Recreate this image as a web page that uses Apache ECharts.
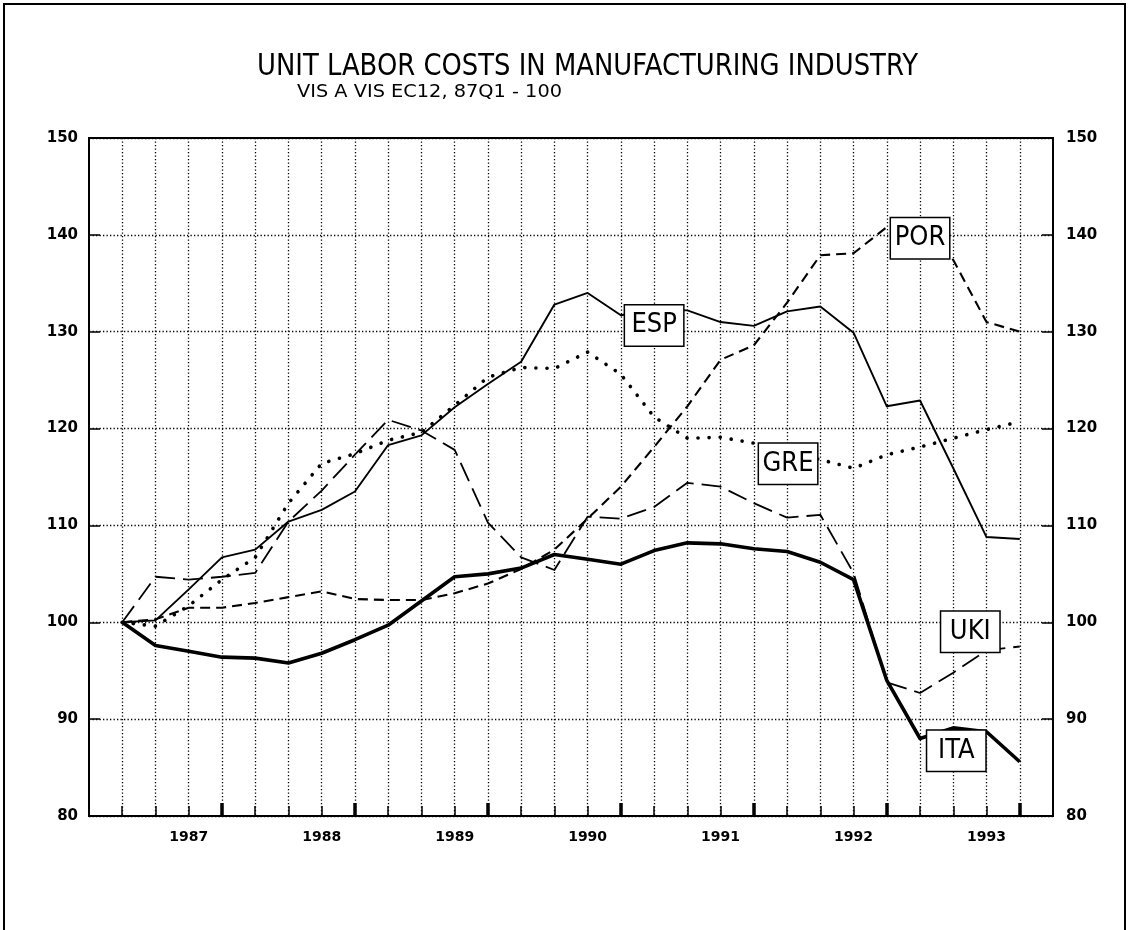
<!DOCTYPE html>
<html><head><meta charset="utf-8">
<script src="https://cdn.jsdelivr.net/npm/echarts@6/dist/echarts.min.js"></script>
<style>html,body{margin:0;padding:0;background:#fff}#c{width:1128px;height:930px}</style>
</head><body><div id="c"></div>
<script>
// ---- data ----
const quarters = ['87Q1','87Q2','87Q3','87Q4','88Q1','88Q2','88Q3','88Q4','89Q1','89Q2','89Q3','89Q4',
  '90Q1','90Q2','90Q3','90Q4','91Q1','91Q2','91Q3','91Q4','92Q1','92Q2','92Q3','92Q4','93Q1','93Q2','93Q3','93Q4'];
const yearLabels = ['1987','1988','1989','1990','1991','1992','1993'];
const yearLabelTicks = [2,6,10,14,18,22,26];
const yearBoundaryTicks = [3,7,11,15,19,23,27];
const titleText = 'UNIT LABOR COSTS IN MANUFACTURING INDUSTRY';
const subtitleText = 'VIS A VIS EC12, 87Q1 - 100';

const esp = [100,100.2,103.4,106.7,107.5,110.4,111.6,113.5,118.3,119.3,122.2,124.6,126.9,132.8,134.0,131.7,132.3,132.2,131.0,130.6,132.1,132.6,129.9,122.3,122.9,115.9,108.8,108.6];
const por = [100,100.3,101.5,101.5,102.0,102.6,103.2,102.4,102.3,102.3,103.0,104.0,105.5,107.5,110.7,114.0,118.1,122.3,127.1,128.6,133.0,137.9,138.1,140.8,141.5,137.4,131.0,130.0];
const gre = [100,99.6,101.7,104.4,106.7,112.3,116.4,117.4,118.8,119.6,122.4,125.3,126.3,126.2,127.9,125.6,121.2,119.0,119.1,118.5,117.6,116.8,115.9,117.3,118.1,119.0,119.9,120.7];
const ita = [100,97.6,97.0,96.4,96.3,95.8,96.8,98.2,99.7,102.2,104.7,105.0,105.6,107.0,106.5,106.0,107.4,108.2,108.1,107.6,107.3,106.2,104.4,94.0,88.0,89.1,88.7,85.6];
const uki = [100,104.7,104.4,104.7,105.1,110.4,113.6,117.3,120.9,119.8,117.8,110.3,106.7,105.4,110.9,110.7,111.9,114.4,114.0,112.3,110.8,111.1,105.1,93.8,92.7,94.8,97.1,97.5];

// ---- layout / style ----
const seriesDefs = [
  {name:'UKI', values:uki, line:{width:1.8, type:[20,8]}},
  {name:'POR', values:por, line:{width:2.1, type:[10,6]}},
  {name:'GRE', values:gre, line:{width:3.6, type:[0.1,11], cap:'round'}},
  {name:'ESP', values:esp, line:{width:1.9, type:'solid'}},
  {name:'ITA', values:ita, line:{width:3.6, type:'solid'}}
];
const labelDefs = [
  {name:'POR', values:por, idx:24, offset:[0,18]},
  {name:'ESP', values:esp, idx:16, offset:[0,16]},
  {name:'GRE', values:gre, idx:20, offset:[1,12]},
  {name:'UKI', values:uki, idx:25, offset:[17,-41]},
  {name:'ITA', values:ita, idx:25, offset:[3,23]}
];
const plotFont = 'DejaVu Sans';
const narrowFont = '"Liberation Sans Narrow", "DejaVu Sans Condensed", "Noto Sans", sans-serif';

function fitScale(text, font, target){
  const c = document.createElement('canvas').getContext('2d');
  c.font = font;
  return target / c.measureText(text).width;
}
const titleFont = '30px "DejaVu Sans"';
const subFont = '18px "DejaVu Sans"';

const chart = echarts.init(document.getElementById('c'), null, {renderer:'canvas'});

const gridLine = {color:'#000', width:1.3, type:[1.3,2.2]};

const lineSeries = seriesDefs.map(s => ({
  type:'line', name:s.name, xAxisIndex:0, yAxisIndex:0,
  data: s.values.map((v,i)=>[i,v]),
  showSymbol:false, symbol:'none', animation:false, z:3,
  lineStyle:Object.assign({color:'#000', join:'round'}, s.line)
}));

const labelSeries = {
  type:'scatter', xAxisIndex:0, yAxisIndex:0, z:10, clip:false, animation:false,
  symbolSize:1, itemStyle:{color:'rgba(0,0,0,0)', opacity:1},
  emphasis:{disabled:true},
  data: labelDefs.map(d => ({
    value:[d.idx, d.values[d.idx]],
    label:{show:true, formatter:d.name, offset:d.offset}
  })),
  label:{
    position:'inside', fontFamily:narrowFont, fontSize:27, color:'#000', opacity:1,
    backgroundColor:'#fff', borderColor:'#000', borderWidth:1.5,
    width:50, height:34, lineHeight:34, align:'center', verticalAlign:'middle',
    padding:[3,4]
  }
};

chart.setOption({
  animation:false,
  backgroundColor:'#fff',
  grid:{left:89, right:75, top:138, bottom:114, show:true, borderColor:'#000', borderWidth:2, backgroundColor:'transparent'},
  xAxis:[
    {type:'value', min:-1, max:28, interval:1, position:'bottom',
     axisLine:{show:true, onZero:false, lineStyle:{color:'#000', width:2}},
     axisTick:{show:true, inside:true, length:10, customValues:quarters.map((q,i)=>i), lineStyle:{color:'#000', width:1.5}},
     axisLabel:{show:true, customValues:yearLabelTicks, formatter:v => yearLabels[yearLabelTicks.indexOf(v)],
       fontFamily:plotFont, fontWeight:'bold', fontSize:14, color:'#000', margin:14},
     splitLine:{show:true, lineStyle:gridLine}},
    {type:'value', min:-1, max:28, interval:1, position:'bottom',
     axisLine:{show:false, onZero:false},
     axisTick:{show:true, inside:true, length:13, customValues:yearBoundaryTicks, lineStyle:{color:'#000', width:3.5}},
     axisLabel:{show:false}, splitLine:{show:false}}
  ],
  yAxis:[
    {type:'value', min:80, max:150, interval:10, position:'left',
     axisLine:{show:true, onZero:false, lineStyle:{color:'#000', width:2}},
     axisTick:{show:true, inside:true, length:11, lineStyle:{color:'#000', width:1.5}},
     axisLabel:{fontFamily:plotFont, fontWeight:'bold', fontSize:15, color:'#000', margin:11},
     splitLine:{show:true, lineStyle:gridLine}},
    {type:'value', min:80, max:150, interval:10, position:'right',
     axisLine:{show:true, onZero:false, lineStyle:{color:'#000', width:2}},
     axisTick:{show:true, inside:true, length:11, lineStyle:{color:'#000', width:1.5}},
     axisLabel:{fontFamily:plotFont, fontWeight:'bold', fontSize:15, color:'#000', margin:13},
     splitLine:{show:false}}
  ],
  graphic:[
    {type:'rect', shape:{x:4, y:4, width:1121, height:1000}, style:{fill:'none', stroke:'#000', lineWidth:2}, silent:true},
    {type:'text', x:257, y:67, scaleX:fitScale(titleText, titleFont, 661), originX:0,
     style:{text:titleText, font:titleFont, fill:'#000', verticalAlign:'middle', align:'left'}},
    {type:'text', x:297, y:92, scaleX:fitScale(subtitleText, subFont, 265), originX:0,
     style:{text:subtitleText, font:subFont, fill:'#000', verticalAlign:'middle', align:'left'}}
  ],
  series: lineSeries.concat([labelSeries])
});
</script>
</body></html>
